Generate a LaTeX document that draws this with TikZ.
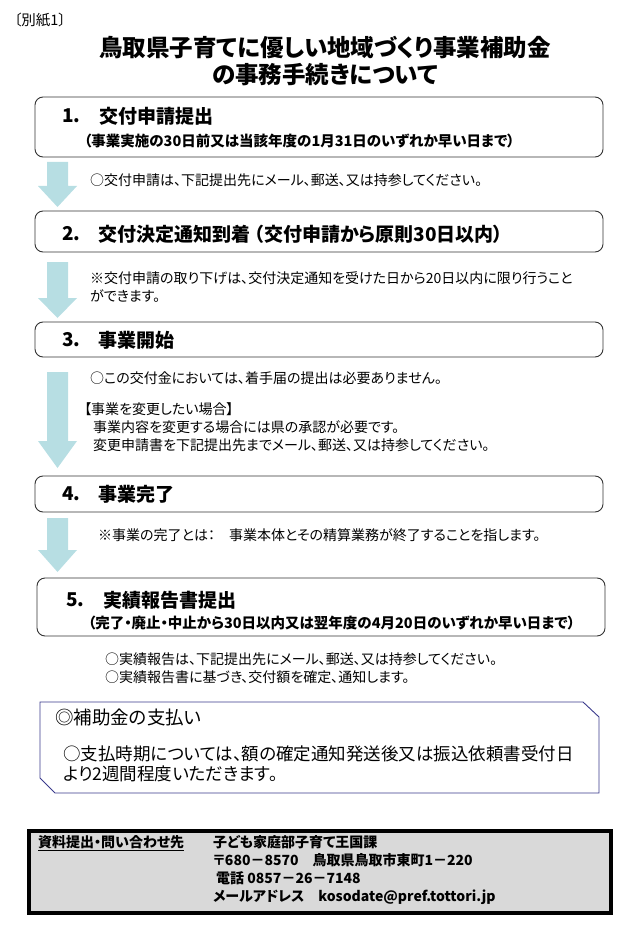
\documentclass[tikz,border=0pt]{standalone}
\usepackage{fontspec}
\setmainfont{Noto Sans CJK JP}[RawFeature=+palt]
\definecolor{arrowblue}{HTML}{B7DEE3}
\definecolor{paynavy}{HTML}{3A3A8C}
\definecolor{infogray}{HTML}{D9D9D9}
\begin{document}
\begin{tikzpicture}[x=1pt, y=-1pt,
    stepbox/.style={draw=black!80, line width=.9pt, rounded corners=8pt},
    head/.style={anchor=west, inner sep=0pt, font=\fontsize{19}{22}\selectfont\bfseries},
    sub/.style={anchor=west, inner sep=0pt, font=\fontsize{14.5}{17}\selectfont\bfseries},
    body/.style={anchor=west, inner sep=0pt, align=left, font=\fontsize{14}{18}\selectfont},
    info/.style={anchor=west, inner sep=0pt, align=left, font=\fontsize{14}{18}\selectfont\bfseries}]
\useasboundingbox (0,0) rectangle (634,925);

\node[anchor=west, inner sep=0pt, font=\fontsize{14.5}{16}\selectfont] (tag) at (14,20) {〔別紙1〕};
\node[align=center, inner sep=0pt, font=\fontsize{23.5}{27}\selectfont\bfseries] (title) at (325,61)
    {鳥取県子育てに優しい地域づくり事業補助金\\の事務手続きについて};

\draw[stepbox] (35,97) rectangle (603,157);
\draw[stepbox] (35,211) rectangle (603,252);
\draw[stepbox] (35,322) rectangle (603,357);
\draw[stepbox] (35,476) rectangle (603,512);
\draw[stepbox] (37,578) rectangle (605,636);

\foreach \t/\h/\b in {162/186/207, 262/298/318, 372/441/468, 518/550/572}
{
    \fill[arrowblue] (47,\t) -- (68,\t) -- (68,\h) -- (77,\h) -- (57.5,\b)
        -- (38,\h) -- (47,\h) -- cycle;
}

\node[head] (n1) at (62,116) {1.};
\node[head] (h1) at (99,116) {交付申請提出};
\node[sub] (d1) at (84,141) {（事業実施の30日前又は当該年度の1月31日のいずれか早い日まで）};
\node[body] (b1) at (90,180) {○交付申請は、下記提出先にメール、郵送、又は持参してください。};

\node[head] (n2) at (62,234) {2.};
\node[head] (h2) at (98,234) {交付決定通知到着 （交付申請から原則30日以内）};
\node[body] (b2) at (90,287) {※交付申請の取り下げは、交付決定通知を受けた日から20日以内に限り行うこと\\ができます。};

\node[head] (n3) at (62,340) {3.};
\node[head] (h3) at (98,340) {事業開始};
\node[body] (b3) at (90,378) {○この交付金においては、着手届の提出は必要ありません。};
\node[body] (b4) at (84,427.5) {【事業を変更したい場合】\\\hspace*{9pt}事業内容を変更する場合には県の承認が必要です。\\\hspace*{9pt}変更申請書を下記提出先までメール、郵送、又は持参してください。};

\node[head] (n4) at (62,494) {4.};
\node[head] (h4) at (98,494) {事業完了};
\node[body] (b5) at (98,535) {※事業の完了とは：　事業本体とその精算業務が終了することを指します。};

\node[head] (n5) at (66,600) {5.};
\node[head] (h5) at (103,600) {実績報告書提出};
\node[sub] (d5) at (88,623) {（完了・廃止・中止から30日以内又は翌年度の4月20日のいずれか早い日まで）};
\node[body] (b6) at (105,668.5) {○実績報告は、下記提出先にメール、郵送、又は持参してください。\\○実績報告書に基づき、交付額を確定、通知します。};

\draw[paynavy, line width=.9pt] (40,702) -- (583,702) -- (599,717) -- (599,793)
    -- (55,793) -- (40,778) -- cycle;
\node[anchor=west, inner sep=0pt, font=\fontsize{18.5}{20}\selectfont] (pay) at (55,717) {◎補助金の支払い};
\node[anchor=west, inner sep=0pt, align=left, font=\fontsize{17.5}{19.5}\selectfont] (paytext) at (63,764)
    {○支払時期については、額の確定通知発送後又は振込依頼書受付日\\より2週間程度いただきます。};

\draw[line width=3.5pt, fill=infogray] (29,831) rectangle (611,913);
\node[info] (contact) at (38,843) {\underline{資料提出・問い合わせ先}};
\node[info] (office) at (213,870) {子ども家庭部子育て王国課\\〒680－8570　鳥取県鳥取市東町1－220\\\hspace*{3pt}電話 0857－26－7148\\メールアドレス　kosodate@pref.tottori.jp};

\end{tikzpicture}
\end{document}
